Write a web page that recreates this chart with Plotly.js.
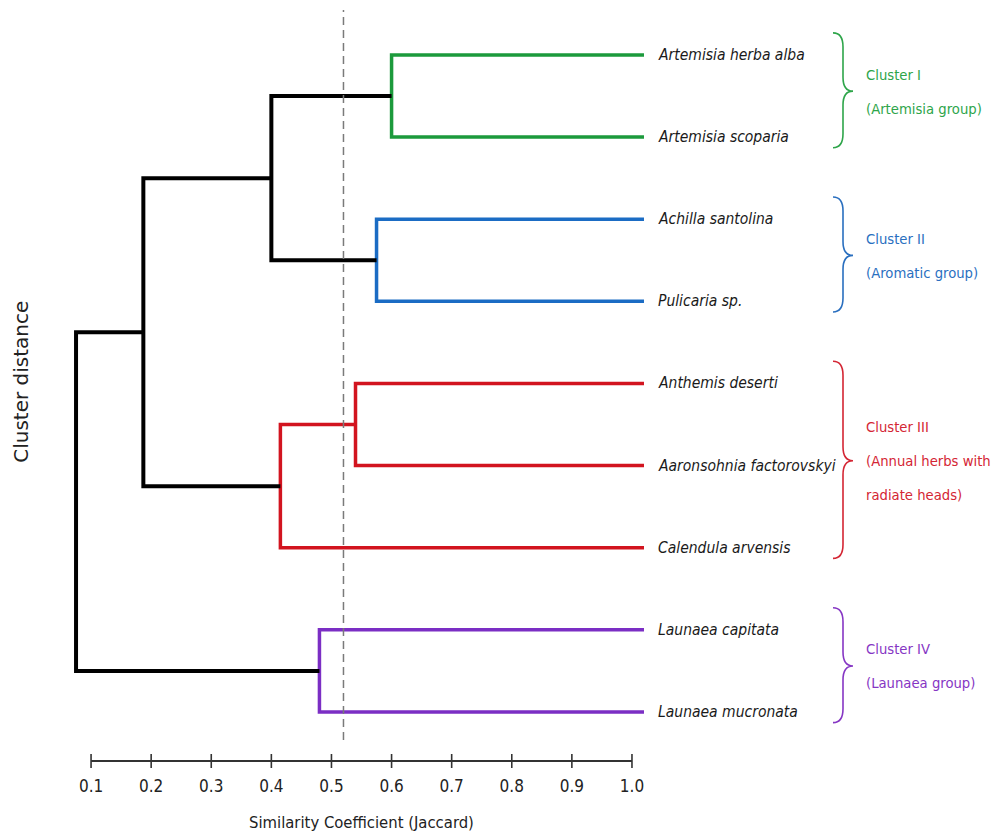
<!DOCTYPE html>
<html>
<head>
<meta charset="utf-8">
<script src="https://cdn.plot.ly/plotly-3.0.1.min.js"></script>
<style>html,body{margin:0;padding:0;background:#fff;}#chart{width:993px;height:837px;}</style>
</head>
<body>
<div id="chart"></div>
<script>
// ---- data ----
const leaves = ['Artemisia herba alba', 'Artemisia scoparia', 'Achilla santolina', 'Pulicaria sp.',
  'Anthemis deserti', 'Aaronsohnia factorovskyi', 'Calendula arvensis', 'Launaea capitata', 'Launaea mucronata'];
// linkage: node 9+k joins mergeA[k] and mergeB[k] at similarity mergeSim[k]
const mergeA = [0, 2, 4, 11, 7, 9, 14, 15];
const mergeB = [1, 3, 5, 6, 8, 10, 12, 13];
const mergeSim = [0.60, 0.575, 0.54, 0.415, 0.48, 0.40, 0.187, 0.075];
const mergeGroup = ['I', 'II', 'III', 'III', 'IV', 'root', 'root', 'root'];
const leafSim = 1.02;
const cutoff = 0.52;
const tickVals = [0.1, 0.2, 0.3, 0.4, 0.5, 0.6, 0.7, 0.8, 0.9, 1.0];
const tickText = ['0.1', '0.2', '0.3', '0.4', '0.5', '0.6', '0.7', '0.8', '0.9', '1.0'];
const clusterIds = ['I', 'II', 'III', 'IV'];
const clusterLines = [['Cluster I', '(Artemisia group)'], ['Cluster II', '(Aromatic group)'],
  ['Cluster III', '(Annual herbs with', 'radiate heads)'], ['Cluster IV', '(Launaea group)']];
const clusterFirst = [0, 2, 4, 7];
const clusterLast = [1, 3, 6, 8];

// ---- styles ----
const lineColor = {I: '#1c9a3c', II: '#1b6cc4', III: '#d2141f', IV: '#7b2ec4', root: '#000000'};
const textColor = {I: '#2ea54a', II: '#2a6fbf', III: '#d42634', IV: '#8636c4'};
const NARROW = '"Liberation Sans Narrow", "DejaVu Sans Condensed", "Liberation Sans", sans-serif';

// ---- build dendrogram ----
const pos = [], hgt = [];
leaves.forEach((l, i) => { pos.push(i); hgt.push(leafSim); });
const traces = [];
mergeA.forEach((a, k) => {
  const b = mergeB[k];
  const h = mergeSim[k];
  pos.push((pos[a] + pos[b]) / 2);
  hgt.push(h);
  const g = mergeGroup[k];
  traces.push({
    type: 'scatter', mode: 'lines', hoverinfo: 'skip', showlegend: false,
    x: [hgt[a], h, h, hgt[b]],
    y: [pos[a], pos[a], pos[b], pos[b]],
    line: {color: lineColor[g], width: g === 'root' ? 4 : 3.5}
  });
});

const shapes = [];
// cutoff line
shapes.push({type: 'line', xref: 'x', yref: 'paper', x0: cutoff, x1: cutoff, y0: 0.028, y1: 1,
  line: {color: '#7a7a7a', width: 1.5, dash: '8px,5px'}});
// axis line + ticks
shapes.push({type: 'line', xref: 'x', yref: 'paper', x0: tickVals[0], x1: tickVals[tickVals.length - 1], y0: 0, y1: 0,
  line: {color: '#333', width: 2}});
tickVals.forEach(v => shapes.push({type: 'line', xref: 'x', yref: 'paper', ysizemode: 'pixel', yanchor: 0,
  x0: v, x1: v, y0: -7, y1: 7, line: {color: '#333', width: 1.6}}));

const annotations = [];
leaves.forEach((l, i) => annotations.push({
  x: leafSim, xref: 'x', y: pos[i], yref: 'y', xanchor: 'left', yanchor: 'middle', xshift: 12,
  text: l, showarrow: false, font: {family: NARROW, size: 15.5, color: '#1a1a1a', style: 'italic'}
}));

// braces + cluster labels
clusterIds.forEach((id, c) => {
  const yTop = clusterFirst[c] - 0.27, yBot = clusterLast[c] + 0.13;
  const yMid = (clusterFirst[c] + clusterLast[c]) / 2 - 0.06;
  const r = 0.17;
  const x0 = 183, xm = 193, xt = 203;
  const path = `M${x0},${yTop} Q${xm},${yTop} ${xm},${yTop + r} L${xm},${yMid - r} Q${xm},${yMid} ${xt},${yMid} ` +
    `Q${xm},${yMid} ${xm},${yMid + r} L${xm},${yBot - r} Q${xm},${yBot} ${x0},${yBot}`;
  shapes.push({type: 'path', xref: 'paper', xsizemode: 'pixel', xanchor: 1, yref: 'y', path: path,
    line: {color: textColor[id], width: 1.6}});
  const lines = clusterLines[c];
  lines.forEach((t, j) => annotations.push({
    x: 1, xref: 'paper', xshift: 214, y: yMid, yref: 'y', yshift: -((j - (lines.length - 1) / 2) * 34),
    xanchor: 'left', yanchor: 'middle', text: t, showarrow: false,
    font: {family: NARROW, size: 14.7, color: textColor[id]}
  }));
});

// axis titles
annotations.push({x: (tickVals[0] + tickVals[tickVals.length - 1]) / 2, xref: 'x', y: 0, yref: 'paper',
  yshift: -61, yanchor: 'middle', xanchor: 'center', showarrow: false,
  text: 'Similarity Coefficient (Jaccard)', font: {family: NARROW, size: 16.5, color: '#222'}});
annotations.push({x: 0, xref: 'paper', xshift: -34, y: 0.505, yref: 'paper', textangle: -90,
  xanchor: 'center', yanchor: 'middle', showarrow: false,
  text: 'Cluster distance', font: {family: '"DejaVu Sans", sans-serif', size: 20, color: '#222'}});

const layout = {
  width: 993, height: 837,
  margin: {l: 55, r: 343, t: 10, b: 76},
  paper_bgcolor: '#ffffff', plot_bgcolor: '#ffffff',
  showlegend: false,
  xaxis: {range: [0.04, 1.03], showgrid: false, zeroline: false, showline: false,
    tickmode: 'array', tickvals: tickVals, ticktext: tickText, ticks: '', ticklabelstandoff: 13,
    tickfont: {family: NARROW, size: 17, color: '#222'}},
  yaxis: {range: [8.597, -0.548], showgrid: false, zeroline: false, showline: false, showticklabels: false, ticks: ''},
  shapes: shapes,
  annotations: annotations
};

Plotly.newPlot('chart', traces, layout, {displayModeBar: false, staticPlot: true});
</script>
</body>
</html>
